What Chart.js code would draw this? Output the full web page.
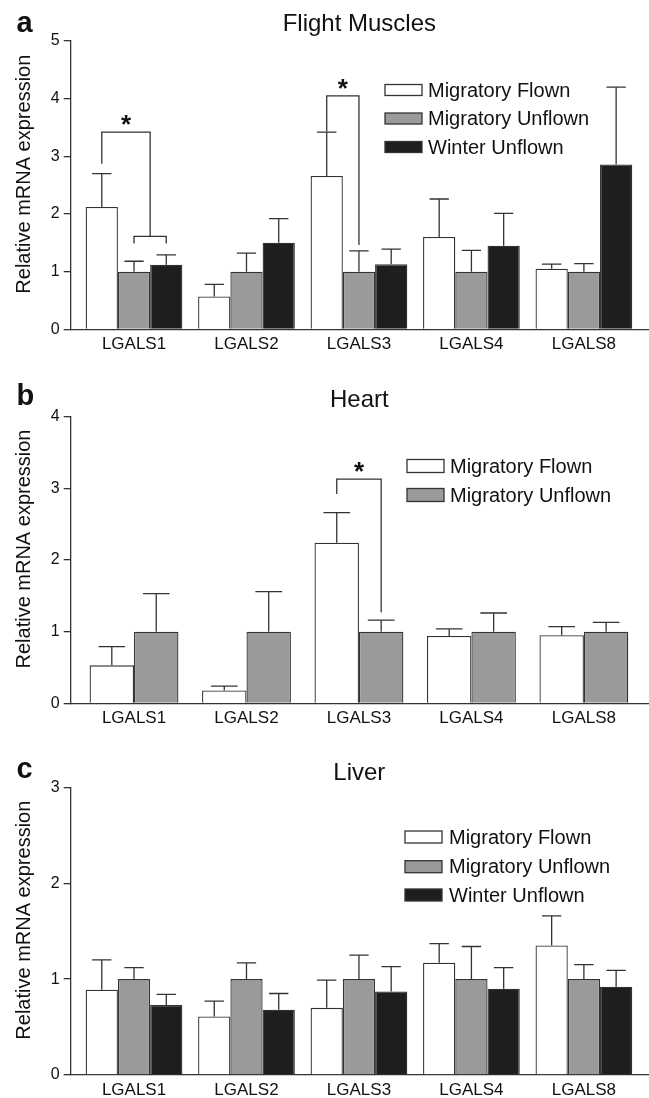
<!DOCTYPE html>
<html>
<head>
<meta charset="utf-8">
<script src="https://cdn.jsdelivr.net/npm/chart.js@4/dist/chart.umd.min.js"></script>
<style>
html, body { margin: 0; padding: 0; background: #fff; }
#wrap { position: relative; width: 649px; height: 1098px; overflow: hidden; }
canvas { position: absolute; left: 0; }
</style>
</head>
<body>
<div id="wrap">
  <canvas id="chartA" width="649" height="360" style="top:0px"></canvas>
  <canvas id="chartB" width="649" height="370" style="top:360px"></canvas>
  <canvas id="chartC" width="649" height="368" style="top:730px"></canvas>
</div>
<script>
const genes = ["LGALS1", "LGALS2", "LGALS3", "LGALS4", "LGALS8"];
const groups = ["Migratory Flown", "Migratory Unflown", "Winter Unflown"];

// a - flight muscles (mean, SEM)
const muscleFlown = [2.12, 0.57, 2.66, 1.60, 1.05];
const muscleFlownErr = [0.58, 0.21, 0.76, 0.66, 0.08];
const muscleUnflown = [1, 1, 1, 1, 1];
const muscleUnflownErr = [0.18, 0.32, 0.36, 0.37, 0.14];
const muscleWinter = [1.12, 1.50, 1.13, 1.45, 2.86];
const muscleWinterErr = [0.17, 0.42, 0.26, 0.56, 1.34];

// b - heart
const heartFlown = [0.53, 0.18, 2.24, 0.94, 0.95];
const heartFlownErr = [0.26, 0.06, 0.42, 0.10, 0.12];
const heartUnflown = [1, 1, 1, 1, 1];
const heartUnflownErr = [0.53, 0.56, 0.16, 0.26, 0.13];

// c - liver
const liverFlown = [0.89, 0.61, 0.70, 1.17, 1.35];
const liverFlownErr = [0.31, 0.16, 0.29, 0.20, 0.31];
const liverUnflown = [1, 1, 1, 1, 1];
const liverUnflownErr = [0.12, 0.17, 0.25, 0.34, 0.15];
const liverWinter = [0.73, 0.68, 0.87, 0.90, 0.92];
const liverWinterErr = [0.11, 0.17, 0.26, 0.22, 0.17];

// significance brackets: from dataset -> to dataset(s), y values of the bracket ends
const muscleSig = [
    { cat: 0, from: 0, to: [1, 2], top: 3.42, fromEnd: 2.87, toEnd: 1.61, subEnd: 1.49 },
    { cat: 2, from: 0, to: [1], top: 4.05, fromEnd: 3.43, toEnd: 1.46 }
];
const heartSig = [
    { cat: 2, from: 0, to: [1], top: 3.13, fromEnd: 2.92, toEnd: 1.27 }
];

const FONT = "'Liberation Sans', Arial, Helvetica, sans-serif";
const fills = ["#ffffff", "#9a9a9a", "#1e1e1e"];
const INK = "#333";

const panelDeco = {
    id: "panelDeco",
    afterDatasetsDraw(chart, args, o) {
        const ctx = chart.ctx, y = chart.scales.y;
        ctx.save();
        ctx.strokeStyle = INK;
        ctx.lineWidth = 1.3;
        // upper error bars
        chart.data.datasets.forEach((ds, di) => {
            chart.getDatasetMeta(di).data.forEach((bar, i) => {
                const top = y.getPixelForValue(ds.data[i].y + ds.err[i]);
                const half = bar.width * 0.3;
                ctx.beginPath();
                ctx.moveTo(bar.x, bar.y);
                ctx.lineTo(bar.x, top);
                ctx.moveTo(bar.x - half, top);
                ctx.lineTo(bar.x + half, top);
                ctx.stroke();
            });
        });
        // brackets + stars
        (o.sig || []).forEach(s => {
            const bx = d => chart.getDatasetMeta(d).data[s.cat].x;
            const xl = bx(s.from);
            const yTop = y.getPixelForValue(s.top);
            let xr;
            ctx.beginPath();
            if (s.to.length === 2) {
                const a = bx(s.to[0]), b = bx(s.to[1]);
                xr = (a + b) / 2;
                const ys = y.getPixelForValue(s.toEnd), ye = y.getPixelForValue(s.subEnd);
                ctx.moveTo(a, ye);
                ctx.lineTo(a, ys);
                ctx.lineTo(b, ys);
                ctx.lineTo(b, ye);
            } else {
                xr = bx(s.to[0]);
            }
            ctx.moveTo(xl, y.getPixelForValue(s.fromEnd));
            ctx.lineTo(xl, yTop);
            ctx.lineTo(xr, yTop);
            ctx.lineTo(xr, y.getPixelForValue(s.toEnd));
            ctx.stroke();
            ctx.fillStyle = "#111";
            ctx.font = "bold 26px " + FONT;
            ctx.textAlign = "center";
            ctx.textBaseline = "alphabetic";
            ctx.fillText("*", (xl + xr) / 2, yTop + 1);
        });
        ctx.restore();
    },
    afterDraw(chart, args, o) {
        const ctx = chart.ctx, area = chart.chartArea;
        ctx.save();
        ctx.fillStyle = "#111";
        // panel letter
        ctx.font = "bold 29px " + FONT;
        ctx.textAlign = "left";
        ctx.textBaseline = "alphabetic";
        ctx.fillText(o.letter, 16.5, o.letterY);
        // title
        ctx.font = "24px " + FONT;
        ctx.textAlign = "center";
        ctx.fillText(o.title, (area.left + area.right) / 2, o.titleY);
        // y axis title
        ctx.save();
        ctx.translate(24, (area.top + area.bottom) / 2 - 11);
        ctx.rotate(-Math.PI / 2);
        ctx.font = "20px " + FONT;
        ctx.textBaseline = "middle";
        ctx.fillText("Relative mRNA expression", 0, 0);
        ctx.restore();
        // legend
        ctx.font = "20px " + FONT;
        ctx.textAlign = "left";
        ctx.textBaseline = "middle";
        ctx.lineWidth = 1.3;
        ctx.strokeStyle = INK;
        chart.data.datasets.forEach((ds, i) => {
            const cy = o.legend.rows[i];
            ctx.fillStyle = ds.backgroundColor;
            ctx.fillRect(o.legend.x, cy - o.legend.boxH / 2, 37, o.legend.boxH);
            ctx.strokeRect(o.legend.x, cy - o.legend.boxH / 2, 37, o.legend.boxH);
            ctx.fillStyle = "#111";
            ctx.fillText(ds.label, o.legend.textX, cy + 1);
        });
        ctx.restore();
    }
};

function makeChart(id, p) {
    const datasets = p.series.map((vals, k) => ({
        label: groups[k],
        data: vals.map((v, i) => ({ x: i, y: v })),
        err: p.errs[k],
        backgroundColor: fills[k],
        borderColor: INK,
        borderWidth: 1.3,
        categoryPercentage: p.catPct,
        barPercentage: 1
    }));
    return new Chart(document.getElementById(id), {
        type: "bar",
        data: { datasets: datasets },
        options: {
            responsive: false,
            animation: false,
            layout: { padding: { top: p.top, right: 1, left: 0, bottom: 0 } },
            plugins: {
                legend: { display: false },
                tooltip: { enabled: false },
                panelDeco: p.deco
            },
            scales: {
                x: {
                    type: "linear",
                    min: -0.563,
                    max: 4.57,
                    offset: false,
                    afterBuildTicks: s => { s.ticks = genes.map((g, i) => ({ value: i })); },
                    afterFit: s => { s.height = p.xh; },
                    grid: { display: false, drawTicks: false },
                    border: { display: true, color: INK, width: 1.3 },
                    ticks: {
                        callback: v => genes[v],
                        font: { family: FONT, size: 17 },
                        color: "#111",
                        padding: 5,
                        maxRotation: 0,
                        autoSkip: false
                    }
                },
                y: {
                    min: 0,
                    max: p.ymax,
                    afterFit: s => { s.width = 70.7; },
                    ticks: { stepSize: 1, font: { family: FONT, size: 16 }, color: "#111", padding: 4 },
                    grid: { drawOnChartArea: false, tickLength: 7, color: INK, lineWidth: 1.3 },
                    border: { display: true, color: INK, width: 1.3 }
                }
            }
        },
        plugins: [panelDeco]
    });
}

// a
makeChart("chartA", {
    series: [muscleFlown, muscleUnflown, muscleWinter],
    errs: [muscleFlownErr, muscleUnflownErr, muscleWinterErr],
    top: 41, xh: 30.7, ymax: 5, catPct: 0.86,
    deco: {
        letter: "a", letterY: 31.7, title: "Flight Muscles", titleY: 31,
        legend: { x: 385, textX: 428, rows: [90, 118.5, 147], boxH: 11 },
        sig: muscleSig
    }
});

// b
makeChart("chartB", {
    series: [heartFlown, heartUnflown],
    errs: [heartFlownErr, heartUnflownErr],
    top: 56.7, xh: 26.7, ymax: 4, catPct: 0.79,
    deco: {
        letter: "b", letterY: 45, title: "Heart", titleY: 46.5,
        legend: { x: 407, textX: 450, rows: [106, 135], boxH: 13 },
        sig: heartSig
    }
});

// c
makeChart("chartC", {
    series: [liverFlown, liverUnflown, liverWinter],
    errs: [liverFlownErr, liverUnflownErr, liverWinterErr],
    top: 57.3, xh: 23, ymax: 3, catPct: 0.86,
    deco: {
        letter: "c", letterY: 48, title: "Liver", titleY: 50,
        legend: { x: 405, textX: 449, rows: [107, 136.7, 165], boxH: 12 },
        sig: []
    }
});
</script>
</body>
</html>
